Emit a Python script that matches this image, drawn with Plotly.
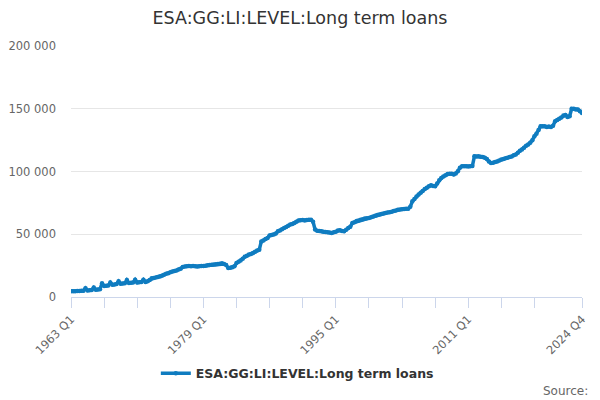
import plotly.graph_objects as go

years = list(range(1963, 2025))
quarters = ["Q1", "Q2", "Q3", "Q4"]
categories = [f"{y} {q}" for y in years for q in quarters]

# values in thousands, one row per year (Q1..Q4)
values_k = [
    [4.5, 4.6, 4.6, 4.7],        # 1963
    [4.8, 4.9, 5.0, 7.0],        # 1964
    [5.2, 5.3, 5.5, 7.5],        # 1965
    [5.8, 6.0, 6.2, 11.0],       # 1966
    [8.8, 9.0, 9.2, 11.5],       # 1967
    [9.8, 10.0, 10.3, 12.5],     # 1968
    [10.6, 10.8, 11.0, 13.5],    # 1969
    [11.2, 11.4, 11.6, 13.8],    # 1970
    [11.5, 11.7, 11.9, 13.8],    # 1971
    [12.0, 12.5, 13.5, 15.0],    # 1972
    [15.2, 15.6, 16.0, 16.4],    # 1973
    [17.0, 17.8, 18.6, 19.0],    # 1974
    [19.8, 20.4, 20.8, 21.2],    # 1975
    [22.0, 22.5, 24.0, 24.4],    # 1976
    [24.5, 24.7, 24.6, 24.8],    # 1977
    [24.5, 24.4, 24.6, 24.7],    # 1978
    [24.8, 25.0, 25.2, 25.4],    # 1979
    [25.6, 25.8, 26.0, 26.2],    # 1980
    [26.5, 26.8, 26.3, 25.5],    # 1981
    [23.1, 23.3, 23.7, 24.5],    # 1982
    [27.0, 28.0, 29.0, 30.5],    # 1983
    [32.0, 32.8, 33.8, 34.3],    # 1984
    [35.0, 36.0, 37.0, 37.7],    # 1985
    [44.3, 45.0, 46.2, 47.0],    # 1986
    [49.1, 49.5, 49.8, 50.5],    # 1987
    [52.3, 53.0, 54.0, 55.0],    # 1988
    [55.8, 56.8, 57.7, 58.2],    # 1989
    [59.0, 60.0, 61.0, 61.2],    # 1990
    [61.3, 61.0, 61.4, 61.6],    # 1991
    [61.5, 60.0, 53.7, 52.8],    # 1992
    [52.5, 52.3, 52.0, 51.8],    # 1993
    [51.6, 51.3, 51.0, 51.5],    # 1994
    [52.0, 53.0, 53.2, 52.5],    # 1995
    [52.3, 53.5, 55.0, 56.0],    # 1996
    [59.0, 59.5, 60.5, 61.0],    # 1997
    [61.5, 62.0, 62.5, 62.8],    # 1998
    [63.0, 63.6, 64.2, 64.8],    # 1999
    [65.4, 65.8, 66.2, 66.6],    # 2000
    [67.0, 67.3, 67.5, 68.0],    # 2001
    [68.5, 69.0, 69.6, 69.8],    # 2002
    [70.0, 70.2, 70.3, 70.4],    # 2003
    [72.0, 76.2, 78.0, 80.0],    # 2004
    [81.6, 83.0, 84.5, 86.0],    # 2005
    [87.0, 88.2, 89.0, 88.5],    # 2006
    [88.2, 90.5, 93.0, 94.9],    # 2007
    [96.0, 97.0, 98.0, 98.3],    # 2008
    [98.3, 97.6, 98.5, 100.2],   # 2009
    [103.0, 104.2, 104.2, 104.2],# 2010
    [104.0, 104.2, 104.3, 112.1],# 2011
    [112.0, 112.1, 111.8, 111.6],# 2012
    [111.0, 110.0, 108.0, 106.8],# 2013
    [107.0, 107.5, 108.0, 108.8],# 2014
    [109.5, 110.0, 110.5, 111.0],# 2015
    [111.5, 112.0, 113.0, 113.5],# 2016
    [115.0, 116.5, 117.5, 119.0],# 2017
    [120.5, 121.5, 123.0, 125.0],# 2018
    [128.0, 130.0, 133.0, 136.0],# 2019
    [136.0, 136.0, 135.5, 135.8],# 2020
    [135.5, 136.5, 140.0, 141.0],# 2021
    [142.0, 143.0, 144.6, 145.0],# 2022
    [143.5, 144.0, 150.0, 150.0],# 2023
    [149.5, 149.5, 148.0, 146.7],# 2024
]
values = [v * 1000 for row in values_k for v in row]

series_name = "ESA:GG:LI:LEVEL:Long term loans"
title_text = "ESA:GG:LI:LEVEL:Long term loans"

tick_idx = list(range(0, 225, 16)) + [len(categories) - 1]
label_idx = {0, 64, 128, 192, len(categories) - 1}
tickvals = [categories[i] for i in tick_idx]
ticktext = [categories[i] if i in label_idx else "" for i in tick_idx]

color = "#0f7cc0"

fig = go.Figure()
fig.add_trace(go.Scatter(
    x=categories, y=values, name="<b>" + series_name + "</b>",
    mode="lines+markers",
    line=dict(color=color, width=3.5),
    marker=dict(color=color, size=4.5),
))

fig.update_layout(
    width=600, height=400,
    margin=dict(l=71, r=18, t=46, b=103, autoexpand=False),
    paper_bgcolor="white", plot_bgcolor="white",
    separators=". ",
    font=dict(family="DejaVu Sans, Open Sans, sans-serif", color="#666666"),
    title=dict(text=title_text, x=0.5, xanchor="center", y=0.955, yanchor="middle",
               font=dict(size=17.5, color="#333333")),
    showlegend=True,
    legend=dict(orientation="h", x=0.166, xanchor="left", y=-0.305, yanchor="middle",
                font=dict(size=12.5, color="#333333"), itemwidth=30),
    xaxis=dict(
        type="category",
        range=[0, len(categories) - 1],
        tickmode="array", tickvals=tickvals, ticktext=ticktext,
        tickangle=-45, ticks="outside", ticklen=10, tickcolor="#ccd6eb",
        showline=True, linecolor="#ccd6eb", linewidth=1,
        showgrid=False, zeroline=False, automargin=False,
        tickfont=dict(size=11.5, color="#666666"),
    ),
    yaxis=dict(
        range=[0, 200000], dtick=50000, tickformat=",d",
        showgrid=True, gridcolor="#e6e6e6", zeroline=False, automargin=False,
        tickfont=dict(size=11.5, color="#666666"),
        ticks="", ticklabelstandoff=14,
    ),
    annotations=[dict(text="Source:", xref="paper", yref="paper", x=1.0, xshift=8,
                      y=-0.375, xanchor="right", yanchor="middle", showarrow=False,
                      font=dict(size=12, color="#666666"))],
)
fig.write_html("out.html", config={"displayModeBar": False},
               post_script="document.body.style.margin='0';document.body.style.padding='0';")
